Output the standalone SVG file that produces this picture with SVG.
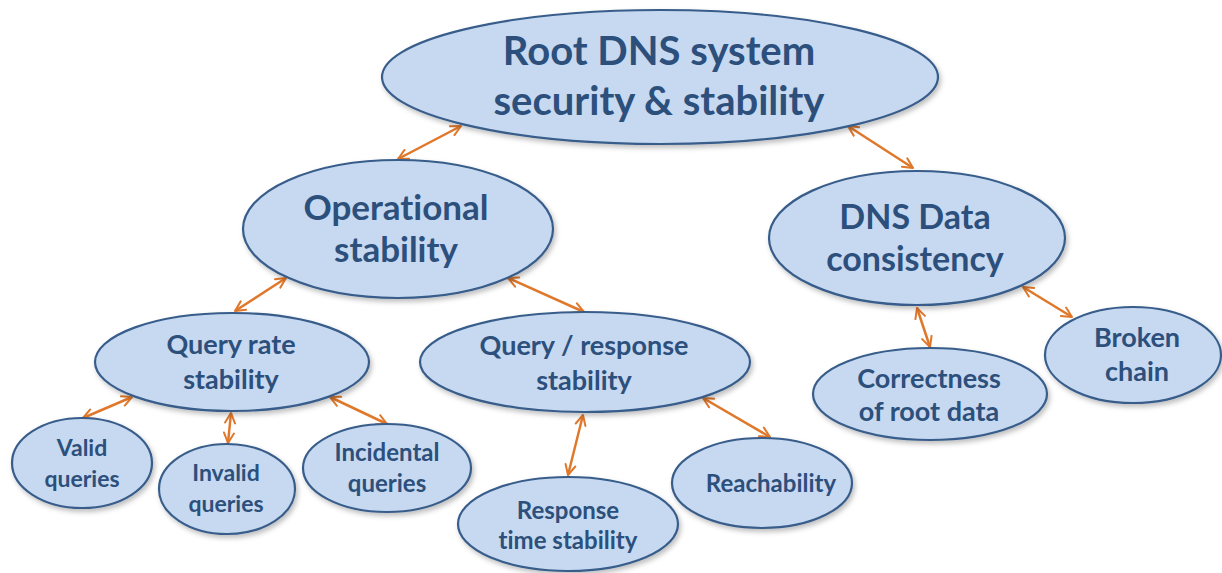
<svg xmlns="http://www.w3.org/2000/svg" width="1222" height="573" viewBox="0 0 1222 573">
<style>
.n{fill:#c6d9f0;stroke:#385d8a;stroke-width:2.2;filter:url(#sh)}
.t{font-family:Lato,"Open Sans",sans-serif;font-weight:bold;fill:#2c4f7c;text-anchor:middle;font-variant-ligatures:none}
.c{stroke:#e0782b;stroke-width:2.5;fill:none;marker-start:url(#ah);marker-end:url(#ah)}
</style>
<defs>
<filter id="sh" x="-10%" y="-10%" width="125%" height="130%">
<feDropShadow dx="2" dy="3" stdDeviation="2.5" flood-color="#000" flood-opacity="0.25"/>
</filter>
<marker id="ah" viewBox="0 0 10 10" refX="9" refY="5" markerWidth="5" markerHeight="5" orient="auto-start-reverse" markerUnits="strokeWidth">
<path d="M1,1 L9,5 L1,9" fill="none" stroke="#e0782b" stroke-width="1.6" stroke-linecap="round" stroke-linejoin="round"/>
</marker>
</defs>
<rect width="1222" height="573" fill="#fff"/>
<g id="connectors">
<line class="c" x1="461" y1="126" x2="398" y2="159"/>
<line class="c" x1="848" y1="126" x2="913" y2="168"/>
<line class="c" x1="286" y1="278" x2="235" y2="311"/>
<line class="c" x1="508" y1="278" x2="584" y2="312"/>
<line class="c" x1="132" y1="397" x2="83" y2="418"/>
<line class="c" x1="231" y1="413" x2="228" y2="443"/>
<line class="c" x1="330" y1="397" x2="387" y2="424"/>
<line class="c" x1="583" y1="415" x2="568" y2="475"/>
<line class="c" x1="703" y1="398" x2="770" y2="437"/>
<line class="c" x1="917" y1="308" x2="930" y2="347"/>
<line class="c" x1="1023" y1="287" x2="1072" y2="317"/>
</g>
<g id="root">
<ellipse class="n" cx="660" cy="77" rx="278" ry="67"/>
<text class="t" x="659" y="65" font-size="40">Root DNS system</text>
<text class="t" x="659" y="115" font-size="40">security &amp; stability</text>
</g>
<g id="operational">
<ellipse class="n" cx="398" cy="229" rx="155" ry="69"/>
<text class="t" x="396" y="220" font-size="35">Operational</text>
<text class="t" x="396" y="262" font-size="35">stability</text>
</g>
<g id="dnsdata">
<ellipse class="n" cx="917" cy="238" rx="148" ry="67"/>
<text class="t" x="915" y="229" font-size="34">DNS Data</text>
<text class="t" x="915" y="271" font-size="34">consistency</text>
</g>
<g id="queryrate">
<ellipse class="n" cx="232" cy="362" rx="137" ry="49"/>
<text class="t" x="231" y="354" font-size="27">Query rate</text>
<text class="t" x="231" y="389" font-size="27">stability</text>
</g>
<g id="queryresponse">
<ellipse class="n" cx="585" cy="362" rx="165" ry="50"/>
<text class="t" x="584" y="355" font-size="27">Query / response</text>
<text class="t" x="584" y="390" font-size="27">stability</text>
</g>
<g id="valid">
<ellipse class="n" cx="82" cy="463" rx="70" ry="45"/>
<text class="t" x="82" y="456" font-size="23">Valid</text>
<text class="t" x="82" y="487" font-size="23">queries</text>
</g>
<g id="invalid">
<ellipse class="n" cx="227" cy="489" rx="68" ry="45"/>
<text class="t" x="226" y="481" font-size="23">Invalid</text>
<text class="t" x="226" y="512" font-size="23">queries</text>
</g>
<g id="incidental">
<ellipse class="n" cx="387" cy="468" rx="84" ry="44"/>
<text class="t" x="387" y="461" font-size="24">Incidental</text>
<text class="t" x="387" y="492" font-size="24">queries</text>
</g>
<g id="responsetime">
<ellipse class="n" cx="568" cy="524" rx="110" ry="47"/>
<text class="t" x="568" y="519" font-size="24">Response</text>
<text class="t" x="568" y="549" font-size="24">time stability</text>
</g>
<g id="reachability">
<ellipse class="n" cx="762" cy="483" rx="90" ry="45"/>
<text class="t" x="771" y="492" font-size="24">Reachability</text>
</g>
<g id="correctness">
<ellipse class="n" cx="930" cy="394" rx="117" ry="46"/>
<text class="t" x="929" y="388" font-size="27">Correctness</text>
<text class="t" x="929" y="421" font-size="27">of root data</text>
</g>
<g id="broken">
<ellipse class="n" cx="1133" cy="355" rx="88" ry="48"/>
<text class="t" x="1137" y="347" font-size="27">Broken</text>
<text class="t" x="1137" y="381" font-size="27">chain</text>
</g>
</svg>
